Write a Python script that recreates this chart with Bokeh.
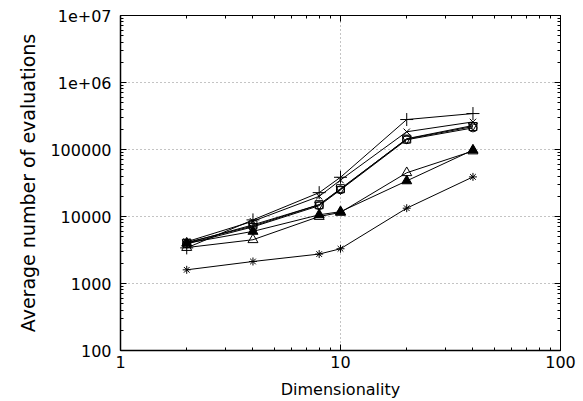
from bokeh.plotting import figure
from bokeh.models import LogAxis, FixedTicker, CustomJSTickFormatter, Range1d
from bokeh.embed import file_html
from bokeh.resources import INLINE

# ---- data ----
dims = [2, 4, 8, 10, 20, 40]
evals_plus = [3400, 8900, 22700, 38500, 280000, 344000]
evals_x = [4200, 8500, 20000, 35000, 184000, 258000]
evals_square = [4000, 7500, 15000, 26000, 143000, 220000]
evals_circle = [3900, 7000, 14500, 25000, 140000, 210000]
evals_invtri = [4100, 7200, 15000, 25500, 145000, 228000]
evals_tri_open = [3440, 4500, 10000, 11500, 45000, 95000]
evals_tri_filled = [4000, 6000, 10600, 11800, 34000, 98000]
evals_star = [1600, 2130, 2750, 3300, 13300, 39000]

x_ticks = [1, 10, 100]
x_tick_labels = ["1", "10", "100"]
y_ticks = [100, 1000, 10000, 100000, 1000000, 10000000]
y_tick_labels = ["100", "1000", "10000", "100000", "1e+06", "1e+07"]

x_title = "Dimensionality"
y_title = "Average number of evaluations"

series = [
    (evals_plus, "cross", None, 13),
    (evals_x, "x", None, 9),
    (evals_square, "square", None, 8),
    (evals_circle, "circle", None, 8),
    (evals_invtri, "inverted_triangle", None, 9),
    (evals_tri_open, "triangle", None, 10),
    (evals_tri_filled, "triangle", "black", 10),
    (evals_star, "asterisk", None, 8),
]

FONT = "DejaVu Sans"

p = figure(width=583, height=401, x_axis_type="log", y_axis_type="log",
           x_range=Range1d(1, 100), y_range=Range1d(100, 1e7),
           output_backend="svg", toolbar_location=None,
           min_border_left=120, min_border_right=23,
           min_border_top=15, min_border_bottom=50)
p.background_fill_color = "white"
p.border_fill_color = "white"
p.outline_line_color = "black"
p.outline_line_width = 1

x_minor = [m * 10 ** e for e in range(0, 2) for m in range(2, 10)]
y_minor = [m * 10 ** e for e in range(2, 7) for m in range(2, 10)]

xt = FixedTicker(ticks=x_ticks, minor_ticks=x_minor)
yt = FixedTicker(ticks=y_ticks, minor_ticks=y_minor)

xa = p.xaxis[0]
xa.ticker = xt
xa.major_label_overrides = {t: l for t, l in zip(x_ticks, x_tick_labels)}
xa.axis_label = x_title

ya = p.yaxis[0]
ya.ticker = yt
ya.major_label_overrides = {t: l for t, l in zip(y_ticks, y_tick_labels)}
ya.axis_label = y_title

for ax in (xa, ya):
    ax.major_tick_in = 6
    ax.major_tick_out = 0
    ax.minor_tick_in = 3
    ax.minor_tick_out = 0
    ax.axis_line_color = "black"
    ax.axis_line_width = 1.5
    ax.major_tick_line_color = "black"
    ax.minor_tick_line_color = "black"
    ax.major_label_text_font = FONT
    ax.major_label_text_font_size = "16px"
    ax.major_label_text_color = "black"
    ax.axis_label_text_font = FONT
    ax.axis_label_text_font_style = "normal"
    ax.axis_label_text_color = "black"

xa.major_label_standoff = 5
xa.axis_label_text_font_size = "16px"
xa.axis_label_standoff = 9
ya.major_label_standoff = 9
ya.axis_label_text_font_size = "19px"
ya.axis_label_standoff = 8

# mirrored tick axes on top and right
blank = CustomJSTickFormatter(code="return ''")
top = LogAxis(ticker=FixedTicker(ticks=x_ticks, minor_ticks=x_minor), formatter=blank)
right = LogAxis(ticker=FixedTicker(ticks=y_ticks, minor_ticks=y_minor), formatter=blank)
for ax in (top, right):
    ax.major_tick_in = 6
    ax.major_tick_out = 0
    ax.minor_tick_in = 3
    ax.minor_tick_out = 0
    ax.major_label_text_font_size = "0px"
    ax.major_label_standoff = 0
    ax.axis_line_color = "black"
p.add_layout(top, "above")
p.add_layout(right, "right")

p.xgrid.ticker = xt
p.ygrid.ticker = yt
for g in (p.xgrid, p.ygrid):
    g.grid_line_color = "#888888"
    g.grid_line_dash = "1 3"
    g.grid_line_width = 1

for vals, marker, fill, sz in series:
    p.line(dims, vals, line_color="black", line_width=1)
    p.scatter(dims, vals, marker=marker, size=sz, line_color="black",
              fill_color=fill, line_width=1)

open("out.html", "w").write(file_html(p, INLINE))
